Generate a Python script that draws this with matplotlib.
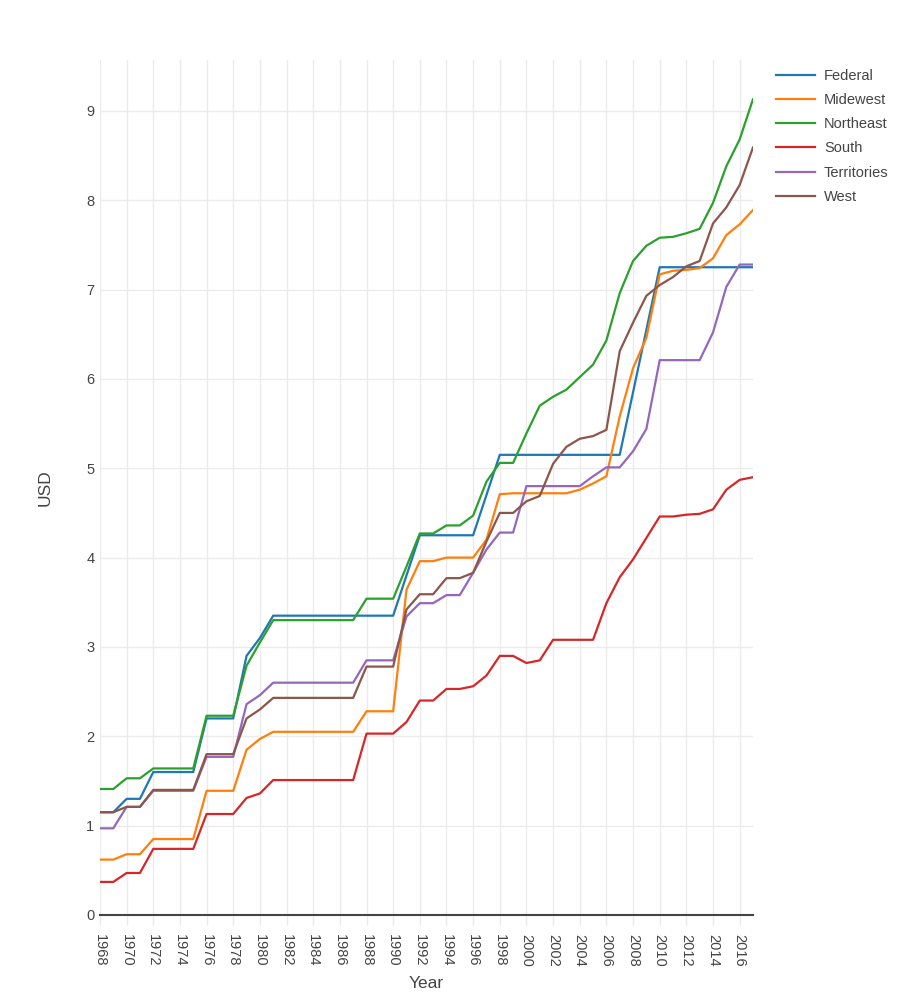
import numpy as np
import matplotlib.pyplot as plt

years = list(range(1968, 2018))

federal = [1.15, 1.15, 1.30, 1.30, 1.60, 1.60, 1.60, 1.60, 2.20, 2.20,
           2.20, 2.90, 3.10, 3.35, 3.35, 3.35, 3.35, 3.35, 3.35, 3.35,
           3.35, 3.35, 3.35, 3.80, 4.25, 4.25, 4.25, 4.25, 4.25, 4.70,
           5.15, 5.15, 5.15, 5.15, 5.15, 5.15, 5.15, 5.15, 5.15, 5.15,
           5.85, 6.55, 7.25, 7.25, 7.25, 7.25, 7.25, 7.25, 7.25, 7.25]

midwest = [0.62, 0.62, 0.68, 0.68, 0.85, 0.85, 0.85, 0.85, 1.39, 1.39,
           1.39, 1.85, 1.97, 2.05, 2.05, 2.05, 2.05, 2.05, 2.05, 2.05,
           2.28, 2.28, 2.28, 3.64, 3.96, 3.96, 4.00, 4.00, 4.00, 4.20,
           4.71, 4.72, 4.72, 4.72, 4.72, 4.72, 4.76, 4.83, 4.91, 5.58,
           6.12, 6.46, 7.17, 7.21, 7.22, 7.24, 7.35, 7.61, 7.73, 7.89]

northeast = [1.41, 1.41, 1.53, 1.53, 1.64, 1.64, 1.64, 1.64, 2.23, 2.23,
             2.23, 2.79, 3.05, 3.30, 3.30, 3.30, 3.30, 3.30, 3.30, 3.30,
             3.54, 3.54, 3.54, 3.90, 4.27, 4.27, 4.36, 4.36, 4.47, 4.85,
             5.06, 5.06, 5.39, 5.70, 5.80, 5.88, 6.02, 6.16, 6.43, 6.96,
             7.32, 7.49, 7.58, 7.59, 7.63, 7.68, 7.97, 8.38, 8.68, 9.13]

south = [0.37, 0.37, 0.47, 0.47, 0.74, 0.74, 0.74, 0.74, 1.13, 1.13,
         1.13, 1.31, 1.36, 1.51, 1.51, 1.51, 1.51, 1.51, 1.51, 1.51,
         2.03, 2.03, 2.03, 2.16, 2.40, 2.40, 2.53, 2.53, 2.56, 2.68,
         2.90, 2.90, 2.82, 2.85, 3.08, 3.08, 3.08, 3.08, 3.49, 3.78,
         3.98, 4.22, 4.46, 4.46, 4.48, 4.49, 4.54, 4.76, 4.87, 4.90]

territories = [0.97, 0.97, 1.21, 1.21, 1.39, 1.39, 1.39, 1.39, 1.77, 1.77,
               1.77, 2.36, 2.46, 2.60, 2.60, 2.60, 2.60, 2.60, 2.60, 2.60,
               2.85, 2.85, 2.85, 3.34, 3.49, 3.49, 3.58, 3.58, 3.83, 4.09,
               4.28, 4.28, 4.80, 4.80, 4.80, 4.80, 4.80, 4.91, 5.01, 5.01,
               5.19, 5.44, 6.21, 6.21, 6.21, 6.21, 6.52, 7.03, 7.28, 7.28]

west = [1.15, 1.15, 1.21, 1.21, 1.40, 1.40, 1.40, 1.40, 1.80, 1.80,
        1.80, 2.20, 2.30, 2.43, 2.43, 2.43, 2.43, 2.43, 2.43, 2.43,
        2.78, 2.78, 2.78, 3.42, 3.59, 3.59, 3.77, 3.77, 3.83, 4.18,
        4.50, 4.50, 4.63, 4.69, 5.05, 5.24, 5.33, 5.36, 5.43, 6.31,
        6.63, 6.93, 7.05, 7.14, 7.26, 7.32, 7.74, 7.92, 8.17, 8.59]

series = [('Federal', federal, '#1f77b4'),
          ('Midewest', midwest, '#ff7f0e'),
          ('Northeast', northeast, '#2ca02c'),
          ('South', south, '#d62728'),
          ('Territories', territories, '#9467bd'),
          ('West', west, '#8c564b')]

plt.rcParams['font.family'] = ['Liberation Sans', 'DejaVu Sans']

fig = plt.figure(figsize=(9.23, 9.99), dpi=100)
ax = fig.add_axes([0.1083, 0.0841, 0.7075, 0.8559])

for name, vals, color in series:
    ax.plot(years, vals, color=color, linewidth=1.6, label=name)

ax.set_xlim(1968, 2017)
ax.set_ylim(0, 9.57)
ax.set_xticks(range(1968, 2017, 2))
ax.set_xticklabels([str(y) for y in range(1968, 2017, 2)], rotation=270)
ax.set_yticks(range(0, 10))

ax.grid(True, color='#ebebeb', linewidth=1)
ax.set_axisbelow(True)
for s in ['top', 'right', 'left']:
    ax.spines[s].set_visible(False)
ax.spines['bottom'].set_color('#444444')
ax.spines['bottom'].set_linewidth(1.5)
ax.tick_params(axis='x', colors='#444444', labelsize=10.5, length=7,
               color='#ebebeb', width=1, pad=7)
ax.tick_params(axis='y', colors='#444444', labelsize=10.5, length=0, pad=4)

ax.set_xlabel('Year', fontsize=12.5, color='#444444', labelpad=6)
ax.set_ylabel('USD', fontsize=12.5, color='#444444', labelpad=24)

ax.legend(loc='upper left', bbox_to_anchor=(1.015, 1.005), frameon=False,
          fontsize=10.5, handlelength=2.7, handletextpad=0.6,
          labelspacing=0.7, labelcolor='#444444')

fig.savefig('out.png', dpi=100)
